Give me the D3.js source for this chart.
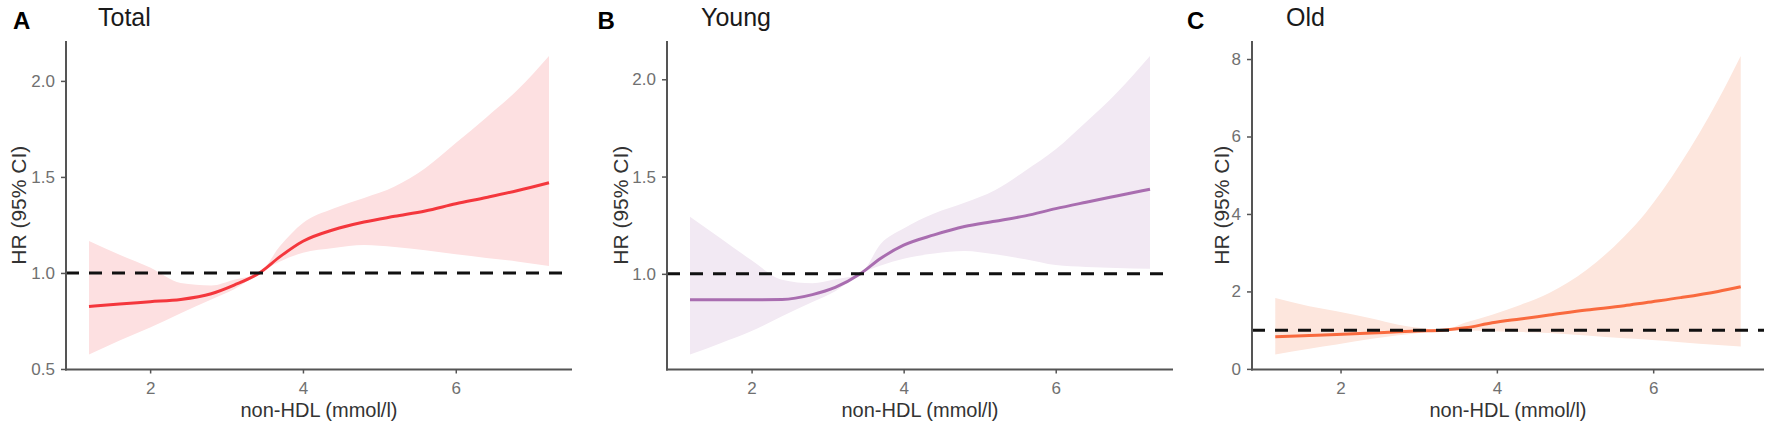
<!DOCTYPE html>
<html>
<head>
<meta charset="utf-8">
<script src="https://cdn.jsdelivr.net/npm/d3@7"></script>
<style>
  html, body { margin: 0; padding: 0; background: #fff; }
  svg { display: block; font-family: "Liberation Sans", Arial, sans-serif; }
</style>
</head>
<body>
<svg id="chart" width="1772" height="434"></svg>
<script>
// ---------------- DATA ----------------
const panelLetters = ["A", "B", "C"];
const panelTitles = ["Total", "Young", "Old"];
const xTitle = "non-HDL (mmol/l)";
const yTitle = "HR (95% CI)";
const xTicks = [2, 4, 6];
const yTicksA = [0.5, 1.0, 1.5, 2.0];
const yTicksB = [1.0, 1.5, 2.0];
const yTicksC = [0, 2, 4, 6, 8];
const refLine = 1;

// Panel A: Total
const xA     = [1.2, 1.6, 2.0, 2.4, 2.8, 3.1, 3.43, 3.7, 4.0, 4.4, 4.8, 5.2, 5.6, 6.0, 6.4, 6.8, 7.22];
const fitA   = [0.825, 0.838, 0.85, 0.862, 0.892, 0.937, 1.0, 1.085, 1.165, 1.225, 1.265, 1.295, 1.323, 1.36, 1.393, 1.428, 1.47];
const upperA = [1.166, 1.095, 1.028, 0.948, 0.935, 0.965, 1.0, 1.14, 1.26, 1.335, 1.39, 1.45, 1.545, 1.676, 1.81, 1.95, 2.13];
const lowerA = [0.575, 0.648, 0.716, 0.79, 0.862, 0.915, 1.0, 1.06, 1.105, 1.13, 1.145, 1.135, 1.118, 1.097, 1.078, 1.06, 1.036];

// Panel B: Young
const xB     = [1.19, 1.6, 2.0, 2.4, 2.8, 3.1, 3.43, 3.7, 4.0, 4.4, 4.8, 5.2, 5.6, 6.0, 6.4, 6.8, 7.24];
const fitB   = [0.867, 0.867, 0.867, 0.868, 0.893, 0.93, 1.0, 1.08, 1.147, 1.2, 1.243, 1.27, 1.298, 1.335, 1.368, 1.40, 1.435];
const upperB = [1.294, 1.18, 1.07, 0.97, 0.952, 0.972, 1.0, 1.155, 1.233, 1.31, 1.365, 1.43, 1.53, 1.64, 1.78, 1.93, 2.12];
const lowerB = [0.585, 0.645, 0.706, 0.782, 0.855, 0.91, 1.0, 1.043, 1.078, 1.104, 1.117, 1.1, 1.075, 1.045, 1.035, 1.03, 1.026];

// Panel C: Old
const xC     = [1.165, 1.6, 1.95, 2.4, 2.74, 3.0, 3.3, 3.6, 3.94, 4.3, 4.67, 5.15, 5.63, 5.9, 6.35, 6.83, 7.12];
const fitC   = [0.83, 0.86, 0.885, 0.925, 0.96, 0.98, 1.0, 1.06, 1.19, 1.29, 1.39, 1.52, 1.63, 1.71, 1.84, 2.0, 2.12];
const upperC = [1.83, 1.62, 1.49, 1.3, 1.14, 1.06, 1.0, 1.2, 1.4, 1.65, 1.96, 2.56, 3.42, 4.02, 5.3, 6.94, 8.08];
const lowerC = [0.37, 0.52, 0.63, 0.78, 0.87, 0.93, 1.0, 0.99, 0.97, 0.95, 0.93, 0.86, 0.79, 0.76, 0.69, 0.62, 0.58];

// ---------------- LAYOUT / STYLE ----------------
const panels = [
  { letter: panelLetters[0], title: panelTitles[0], x: xA, fit: fitA, lo: lowerA, hi: upperA, yTicks: yTicksA,
    xr: [66, 572], letterX: 13, titleX: 98, yTitleX: 26, line: "#f4373d", band: "#fde0e1" },
  { letter: panelLetters[1], title: panelTitles[1], x: xB, fit: fitB, lo: lowerB, hi: upperB, yTicks: yTicksB,
    xr: [667, 1173], letterX: 597.5, titleX: 701, yTitleX: 628, line: "#a96db0", band: "#f2e9f3" },
  { letter: panelLetters[2], title: panelTitles[2], x: xC, fit: fitC, lo: lowerC, hi: upperC, yTicks: yTicksC,
    xr: [1252, 1764], letterX: 1187, titleX: 1286, yTitleX: 1229, line: "#f96a3e", band: "#fde6dd" }
];
const yr = [369.5, 41];

function expand(ext) {
  const d = ext[1] - ext[0];
  return [ext[0] - 0.05 * d, ext[1] + 0.05 * d];
}

const svg = d3.select("#chart");

panels.forEach(p => {
  const g = svg.append("g");
  const data = p.x.map((xv, i) => ({ x: xv, fit: p.fit[i], lo: p.lo[i], hi: p.hi[i] }));

  const xs = d3.scaleLinear().domain(expand(d3.extent(p.x))).range(p.xr);
  const ys = d3.scaleLinear()
    .domain(expand([d3.min(p.lo), d3.max(p.hi)]))
    .range(yr);

  // CI band
  g.append("path")
    .datum(data)
    .attr("fill", p.band)
    .attr("d", d3.area().curve(d3.curveMonotoneX)
      .x(d => xs(d.x)).y0(d => ys(d.lo)).y1(d => ys(d.hi)));

  // fitted line
  g.append("path")
    .datum(data)
    .attr("fill", "none")
    .attr("stroke", p.line)
    .attr("stroke-width", 3)
    .attr("d", d3.line().curve(d3.curveMonotoneX).x(d => xs(d.x)).y(d => ys(d.fit)));

  // reference dashed line
  g.append("line")
    .attr("x1", p.xr[0]).attr("x2", p.xr[1])
    .attr("y1", ys(refLine)).attr("y2", ys(refLine))
    .attr("stroke", "#111")
    .attr("stroke-width", 3)
    .attr("stroke-dasharray", "13,10");

  // axes
  const xAxis = g.append("g")
    .attr("transform", `translate(0,${yr[0]})`)
    .call(d3.axisBottom(xs).tickValues(xTicks).tickFormat(d3.format("d"))
      .tickSize(4).tickSizeOuter(0).tickPadding(8));
  const yAxis = g.append("g")
    .attr("transform", `translate(${p.xr[0]},0)`)
    .call(d3.axisLeft(ys).tickValues(p.yTicks)
      .tickFormat(p.yTicks === yTicksC ? d3.format("d") : d3.format(".1f"))
      .tickSize(5).tickSizeOuter(0).tickPadding(6));

  [xAxis, yAxis].forEach(ax => {
    ax.select(".domain").attr("stroke", "#555").attr("stroke-width", 2);
    ax.selectAll(".tick line").attr("stroke", "#555").attr("stroke-width", 1.5);
    ax.selectAll(".tick text")
      .attr("fill", "#707070")
      .style("font-size", "17px")
      .style("font-family", "'Liberation Sans', Arial, sans-serif");
  });
  // extend the axis domain lines to meet at the corner
  xAxis.select(".domain").attr("d", `M${p.xr[0] - 1},0H${p.xr[1]}`);
  yAxis.select(".domain").attr("d", `M0,${yr[0] + 1}V${yr[1]}`);

  // axis titles
  g.append("text")
    .attr("x", (p.xr[0] + p.xr[1]) / 2)
    .attr("y", 417)
    .attr("text-anchor", "middle")
    .attr("fill", "#333")
    .style("font-size", "20px")
    .text(xTitle);

  g.append("text")
    .attr("transform", `translate(${p.yTitleX},${(yr[0] + yr[1]) / 2}) rotate(-90)`)
    .attr("text-anchor", "middle")
    .attr("fill", "#333")
    .style("font-size", "21px")
    .text(yTitle);

  // panel letter and title
  g.append("text")
    .attr("x", p.letterX).attr("y", 29)
    .attr("fill", "#000")
    .style("font-size", "24px")
    .style("font-weight", "bold")
    .text(p.letter);

  g.append("text")
    .attr("x", p.titleX).attr("y", 26)
    .attr("fill", "#1a1a1a")
    .style("font-size", "25px")
    .text(p.title);
});
</script>
</body>
</html>
